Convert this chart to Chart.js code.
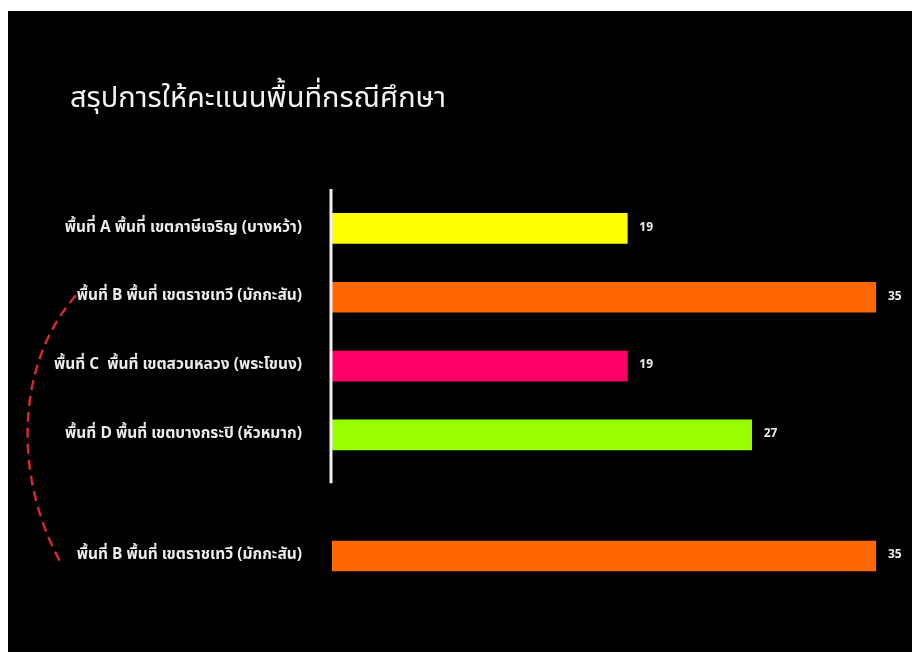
<!DOCTYPE html>
<html>
<head>
<meta charset="utf-8">
<script src="https://cdn.jsdelivr.net/npm/chart.js@4.4.1/dist/chart.umd.min.js"></script>
<style>
  html, body { margin: 0; padding: 0; background: #ffffff; }
  #panel { position: absolute; left: 8px; top: 11px; width: 904px; height: 641px; background: #000000; }
  canvas { display: block; }
</style>
</head>
<body>
<div id="panel"><canvas id="c" width="904" height="641"></canvas></div>
<script>
// Scores per study area
const chartTitle = 'สรุปการให้คะแนนพื้นที่กรณีศึกษา';
const areaLabels = [
  'พื้นที่ A พื้นที่ เขตภาษีเจริญ (บางหว้า)',
  'พื้นที่ B พื้นที่ เขตราชเทวี (มักกะสัน)',
  'พื้นที่ C  พื้นที่ เขตสวนหลวง (พระโขนง)',
  'พื้นที่ D พื้นที่ เขตบางกระปิ (หัวหมาก)'
];
const areaScores = [19, 35, 19, 27];
const areaColors = ['#ffff00', '#ff6600', '#ff0066', '#99ff00'];

// The selected area, shown again below the ranking
const selectedLabels = ['พื้นที่ B พื้นที่ เขตราชเทวี (มักกะสัน)'];
const selectedScores = [35];
const selectedColors = ['#ff6600'];

const FONT = "'Noto Sans Thai', 'Noto Sans', 'DejaVu Sans', sans-serif";
const TEXT = '#ececec';

// Heading in the top-left corner
const heading = {
  id: 'heading',
  afterDraw(chart) {
    const ctx = chart.ctx;
    ctx.save();
    ctx.font = '29px ' + FONT;
    ctx.fillStyle = '#f2f2f2';
    ctx.textAlign = 'left';
    ctx.textBaseline = 'middle';
    ctx.fillText(chartTitle, 62, 90);
    ctx.restore();
  }
};

// Score printed just right of each bar
const valueLabels = {
  id: 'valueLabels',
  afterDatasetsDraw(chart) {
    const ctx = chart.ctx;
    ctx.save();
    ctx.font = 'bold 12px ' + FONT;
    ctx.fillStyle = TEXT;
    ctx.textAlign = 'left';
    ctx.textBaseline = 'middle';
    chart.data.datasets.forEach((ds, i) => {
      chart.getDatasetMeta(i).data.forEach((bar, j) => {
        ctx.fillText(String(ds.data[j]), bar.x + 12, bar.y);
      });
    });
    ctx.restore();
  }
};

// White base line for the ranked group, plus the dashed link between the two "B" rows
const decorations = {
  id: 'decorations',
  afterDraw(chart) {
    const ctx = chart.ctx;
    const yTop = chart.scales.y;
    const yBottom = chart.scales.y2;
    const x0 = chart.scales.x.getPixelForValue(0);
    ctx.save();
    ctx.strokeStyle = '#f2f2f2';
    ctx.lineWidth = 3;
    ctx.beginPath();
    ctx.moveTo(x0 - 1, yTop.top - 5);
    ctx.lineTo(x0 - 1, yTop.bottom + 14);
    ctx.stroke();

    const sy = yTop.getPixelForValue(1) - 2;
    const ey = yBottom.getPixelForValue(0) + 9;
    ctx.strokeStyle = '#d02a2a';
    ctx.lineWidth = 2.5;
    ctx.setLineDash([10, 6]);
    ctx.beginPath();
    ctx.moveTo(68, sy);
    ctx.bezierCurveTo(6, sy + 70, 6, ey - 85, 54, ey);
    ctx.stroke();
    ctx.restore();
  }
};

// Labels sit 30px left of the bars: an invisible tick mark supplies the gap
const rowGrid = { display: true, drawOnChartArea: false, drawTicks: true, tickLength: 30, color: 'rgba(0,0,0,0)' };
const tickStyle = { color: TEXT, padding: 0, font: { family: FONT, size: 15.5, weight: 'bold' } };

new Chart(document.getElementById('c'), {
  type: 'bar',
  data: {
    datasets: [
      { data: areaScores, backgroundColor: areaColors, yAxisID: 'y', barThickness: 30, grouped: false },
      { data: selectedScores, backgroundColor: selectedColors, yAxisID: 'y2', barThickness: 30, grouped: false }
    ]
  },
  options: {
    indexAxis: 'y',
    responsive: false,
    animation: false,
    layout: { padding: { left: 20, right: 36, top: 183, bottom: 9 } },
    plugins: {
      legend: { display: false },
      tooltip: { enabled: false },
      title: { display: false }
    },
    scales: {
      x: { display: false, min: 0, max: 35 },
      // stacked axes are laid out bottom-up in definition order
      y2: {
        type: 'category',
        labels: selectedLabels,
        position: 'left',
        stack: 'areas',
        stackWeight: 2.52,
        offset: true,
        grid: rowGrid,
        border: { display: false },
        ticks: tickStyle,
        afterFit(scale) { scale.width = 304; }
      },
      y: {
        type: 'category',
        labels: areaLabels,
        position: 'left',
        stack: 'areas',
        stackWeight: 4,
        offset: true,
        grid: rowGrid,
        border: { display: false },
        ticks: tickStyle,
        afterFit(scale) { scale.width = 304; }
      }
    }
  },
  plugins: [heading, valueLabels, decorations]
});
</script>
</body>
</html>
